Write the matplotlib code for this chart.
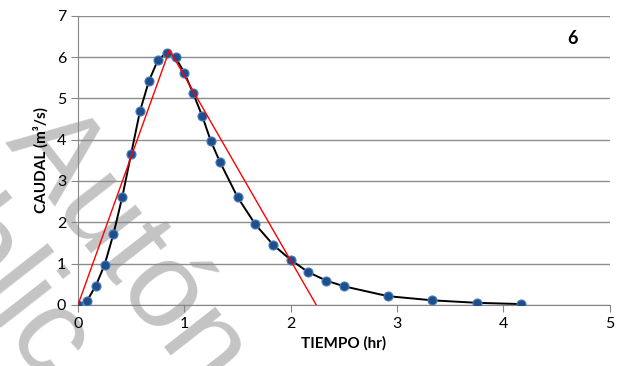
import matplotlib
matplotlib.use("Agg")
import matplotlib.pyplot as plt

# hydrograph
tiempo = [0.0, 0.083, 0.167, 0.25, 0.333, 0.417, 0.5, 0.583, 0.667, 0.75,
          0.833, 0.917, 1.0, 1.083, 1.167, 1.25, 1.333, 1.5, 1.667, 1.833,
          2.0, 2.167, 2.333, 2.5, 2.917, 3.333, 3.75, 4.167]
caudal = [0.0, 0.09, 0.46, 0.97, 1.71, 2.62, 3.66, 4.69, 5.42, 5.92,
          6.11, 5.99, 5.62, 5.12, 4.58, 3.96, 3.47, 2.61, 1.95, 1.46,
          1.09, 0.79, 0.59, 0.45, 0.21, 0.11, 0.05, 0.02]

# triangular approximation
tri_t = [0.0, 0.86, 2.24]
tri_q = [0.0, 6.17, 0.0]

plt.rcParams['font.family'] = ['Lato', 'DejaVu Sans']

fig = plt.figure(figsize=(6.19, 3.66), dpi=100)
ax = fig.add_axes([0.126, 0.167, 0.859, 0.79])
ax.set_zorder(1)

# faint watermark behind the chart
wm = dict(color='#c4c4c4', fontsize=88, rotation=-52, rotation_mode='anchor',
          va='baseline', family='Liberation Sans', zorder=0)
fig.text(0.005, 0.61, 'Autónoma', ha='left', **wm)
fig.text(0.063, -0.066, 'Públic', ha='right', **wm)

ax.plot(tiempo, caudal, color='black', lw=1.4, zorder=3)
ax.plot(tiempo, caudal, 'o', ms=6.5, mfc='#1f4e8c', mec='#4a7ebb', mew=0.8, zorder=4)
ax.plot(tri_t, tri_q, color='red', lw=1.0, zorder=5)

ax.set_xlim(0, 5)
ax.set_ylim(0, 7)
ax.set_xticks(range(0, 6))
ax.set_yticks(range(0, 8))
ax.tick_params(labelsize=11.5, length=5, color='#868686', direction='out')
ax.yaxis.grid(True, color='#8c8c8c', lw=1.0)
ax.set_axisbelow(True)
ax.patch.set_alpha(0)
for s in ['top', 'right']:
    ax.spines[s].set_visible(False)
for s in ['left', 'bottom']:
    ax.spines[s].set_color('#868686')

ax.set_xlabel('TIEMPO (hr)', fontsize=11, fontweight='bold', labelpad=4)
ax.set_ylabel('CAUDAL (m³/s)', fontsize=11, fontweight='bold', labelpad=6)
ax.text(0.93, 0.92, '6', transform=ax.transAxes, fontsize=13,
        fontweight='bold', ha='center', va='center')

fig.savefig('out.png', dpi=100)
